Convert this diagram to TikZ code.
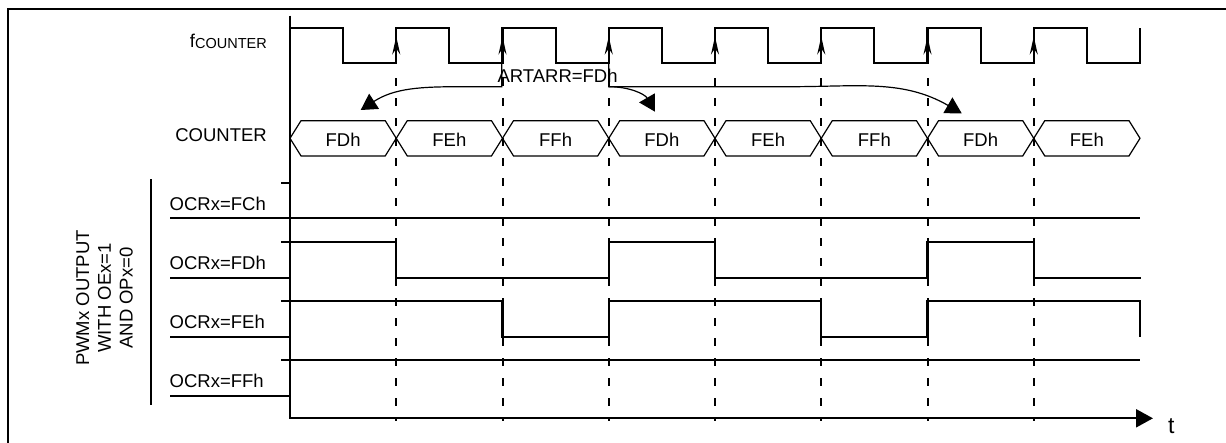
\documentclass[tikz,border=0pt]{standalone}
\usepackage{fontspec}
\setmainfont{Liberation Sans}
\usetikzlibrary{arrows.meta}
\tikzset{
  lbl/.style={font=\fontsize{18.5}{21.7}\selectfont,inner sep=0pt},
  sig/.style={line width=2.2pt},
  hex/.style={line width=1.2pt,line join=miter},
  guide/.style={line width=2pt,dash pattern=on 8pt off 12pt},
  edgeup/.style={line width=1.6pt,-{Stealth[length=18pt,width=8pt,inset=6pt]}},
  ptr/.style={line width=1.2pt,-{Triangle[length=16pt,width=18pt]}},
  axis/.style={line width=2.2pt,-{Triangle[length=17pt,width=18pt]}}
}

\begin{document}
\begin{tikzpicture}[x=1pt,y=-1pt]
\useasboundingbox (0,0) rectangle (1226,442);
\draw[line width=2.2pt] (1230,9) -- (8.3,9) -- (8.3,446);
% clock and counter
\draw[sig] (290,28.3) \foreach \k in {0,...,7} { -- ++(53.125,0) -- ++(0,35) -- ++(53.125,0) -- ++(0,-35) };
\foreach \k in {1,...,7} {
  \draw[guide] (290+106.25*\k,78) -- ++(0,343);
  \draw[edgeup] (290+106.25*\k,62) -- ++(0,-25.5);
}
\foreach \v [count=\k from 0] in {FDh,FEh,FFh,FDh,FEh,FFh,FDh,FEh} {
  \draw[hex] (290+106.25*\k,138.3) -- ++(11,-17.6) -- ++(84.25,0) -- ++(11,17.6) -- ++(-11,17.6) -- ++(-84.25,0) -- cycle;
  \node[lbl,anchor=base] (v\k) at (343.1+106.25*\k,146.7) {\v};
}
\node[lbl,anchor=base east] (lblclk) at (267,47.5) {f{\fontsize{14.5}{16}\selectfont\raisebox{-1pt}{COUNTER}}};
\node[lbl,anchor=base east] (lblcnt) at (267,141.7) {COUNTER};
\node[lbl,anchor=base west] (lblarr) at (497.3,82.7) {ARTARR=FDh};
\draw[ptr] (501.7,63.3) -- (501.7,86.7) -- (461,86.7) to[out=180,in=33] (360.7,110);
\draw[ptr] (608.75,63.3) -- (608.75,86.7) to[out=0,in=120] (655,111.7);
\draw[ptr] (608.75,86.7) -- (790,86.7) to[out=0,in=150] (961.7,113.3);
% PWM outputs
\node[lbl,anchor=base west] (lblfc) at (169.5,210) {OCRx=FCh};
\node[lbl,anchor=base west] (lblfd) at (169.5,269.5) {OCRx=FDh};
\node[lbl,anchor=base west] (lblfe) at (169.5,328.7) {OCRx=FEh};
\node[lbl,anchor=base west] (lblff) at (169.5,387.9) {OCRx=FFh};
\node[lbl,rotate=90,align=center] (lblpwm) at (104.5,298) {PWMx OUTPUT\\WITH OEx=1\\AND OPx=0};
\draw[sig] (151,179.3) -- (151,405);
\draw[sig] (170,218) -- (1140,218);
\draw[sig] (281,182.7) -- (290,182.7);
\draw[sig] (170,277.7) -- (290,277.7);
\draw[sig] (281,241.7) -- (396.25,241.7) -- (396.25,277.7) -- (608.75,277.7) -- (608.75,241.7) -- (715,241.7) -- (715,277.7) -- (927.5,277.7) -- (927.5,241.7) -- (1033.75,241.7) -- (1033.75,277.7) -- (1141,277.7);
\draw[sig] (170,336.7) -- (290,336.7);
\draw[sig] (281,301) -- (502.5,301) -- (502.5,336.7) -- (608.75,336.7) -- (608.75,301) -- (821.25,301) -- (821.25,336.7) -- (927.5,336.7) -- (927.5,301) -- (1140,301) -- (1140,336.7);
\draw[sig] (170,395.7) -- (290,395.7);
\draw[sig] (281,360) -- (1140,360);
% axes
\draw[axis] (290,15.7) |- (1153,418.3);
\node[lbl,font=\fontsize{23}{26}\selectfont,anchor=base west] (lblt) at (1168,433.3) {t};
\end{tikzpicture}
\end{document}
